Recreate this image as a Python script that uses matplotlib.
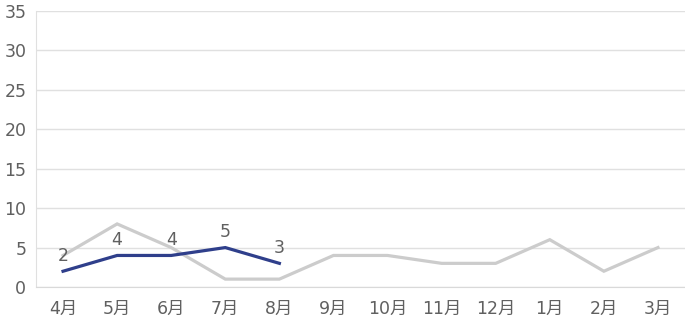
import matplotlib
matplotlib.use("Agg")
import matplotlib.pyplot as plt

plt.rcParams['font.family'] = ['DejaVu Sans', 'Noto Sans CJK JP']

months = ["4月", "5月", "6月", "7月", "8月", "9月", "10月", "11月", "12月", "1月", "2月", "3月"]
prev_year = [4, 8, 5, 1, 1, 4, 4, 3, 3, 6, 2, 5]
this_year = [2, 4, 4, 5, 3]
y_ticks = [0, 5, 10, 15, 20, 25, 30, 35]

fig = plt.figure(figsize=(6.85, 3.3), dpi=100)
ax = fig.add_axes([36/685, 1 - 287/330, (685-36)/685, (287-11)/330])

x_all = list(range(len(months)))
ax.plot(x_all, prev_year, color="#cccccc", lw=2.3, solid_joinstyle="miter", zorder=2)
x_cur = list(range(len(this_year)))
ax.plot(x_cur, this_year, color="#2f3f8b", lw=2.3, solid_joinstyle="miter", zorder=3)
for xi, v in zip(x_cur, this_year):
    ax.annotate(str(v), (xi, v), xytext=(0, 7.5), textcoords="offset points",
                ha="center", va="baseline", fontsize=12.5, color="#606060")

ax.set_xlim(-0.5, len(months) - 0.5)
ax.set_ylim(0, 35)
ax.set_yticks(y_ticks)
ax.set_xticks(x_all)
ax.set_xticklabels(months)
ax.grid(axis="y", color="#e0e0e0", lw=1)
ax.set_axisbelow(True)
for s in ["top", "right"]:
    ax.spines[s].set_visible(False)
ax.spines["left"].set_color("#e0e0e0")
ax.spines["bottom"].set_color("#d9d9d9")
ax.tick_params(length=0, colors="#606060", labelsize=12.5)
ax.tick_params(axis="x", pad=9)
ax.tick_params(axis="y", pad=7)

fig.savefig("out.png", dpi=100)
